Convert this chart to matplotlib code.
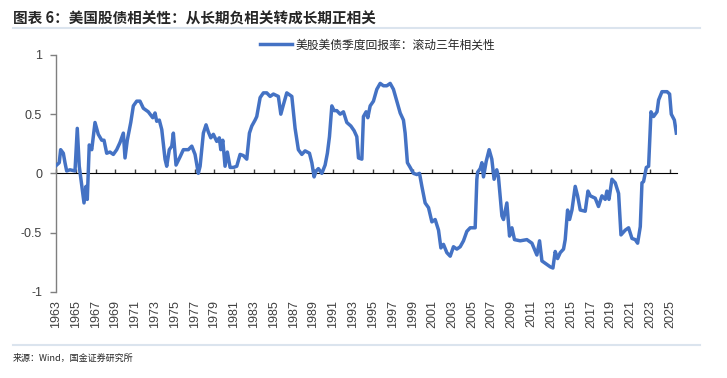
"""
US stock-bond correlation chart (rolling 3y correlation of quarterly returns).
Output: out.png
"""

import numpy as np
import matplotlib
matplotlib.use("Agg")
import matplotlib.pyplot as plt

plt.rcParams["font.family"] = ["Noto Sans CJK SC", "DejaVu Sans"]

TITLE = "图表 6：美国股债相关性：从长期负相关转成长期正相关"
SERIES_NAME = "美股美债季度回报率：滚动三年相关性"
SOURCE = "来源：Wind，国金证券研究所"

# values (decimal year, correlation)
years = [
    1963.00, 1963.33, 1963.47, 1963.74, 1963.91, 1964.08, 1964.41, 1964.92, 1965.15, 1965.35,
    1965.49, 1965.83, 1966.03, 1966.16, 1966.36, 1966.61, 1966.94, 1967.27, 1967.62, 1967.85,
    1968.12, 1968.45, 1968.79, 1969.13, 1969.46, 1969.80, 1969.97, 1970.20, 1970.55, 1970.81,
    1971.15, 1971.48, 1971.82, 1972.32, 1972.77, 1973.00, 1973.17, 1973.43, 1973.68, 1974.01,
    1974.18, 1974.44, 1974.69, 1974.85, 1975.12, 1975.53, 1975.86, 1976.36, 1976.71, 1977.04,
    1977.37, 1977.55, 1977.88, 1978.15, 1978.38, 1978.63, 1978.89, 1979.23, 1979.49, 1979.64,
    1979.84, 1980.07, 1980.30, 1980.58, 1980.91, 1981.25, 1981.59, 1981.92, 1982.26, 1982.53,
    1982.77, 1983.10, 1983.27, 1983.61, 1983.94, 1984.28, 1984.62, 1984.95, 1985.45, 1985.70,
    1985.96, 1986.30, 1986.81, 1987.14, 1987.47, 1987.82, 1988.15, 1988.59, 1988.83, 1989.06,
    1989.26, 1989.49, 1989.84, 1990.17, 1990.40, 1990.61, 1990.85, 1991.08, 1991.35, 1991.69,
    1992.02, 1992.36, 1992.77, 1993.10, 1993.37, 1993.54, 1993.88, 1994.04, 1994.31, 1994.48,
    1994.72, 1995.05, 1995.39, 1995.73, 1996.06, 1996.40, 1996.74, 1997.07, 1997.41, 1997.75,
    1998.08, 1998.25, 1998.48, 1998.76, 1999.09, 1999.43, 1999.70, 1999.94, 2000.27, 2000.61,
    2000.95, 2001.28, 2001.62, 2001.86, 2002.12, 2002.46, 2002.80, 2003.13, 2003.47, 2003.81,
    2004.14, 2004.48, 2004.82, 2005.32, 2005.49, 2005.57, 2005.83, 2006.00, 2006.16, 2006.43,
    2006.73, 2007.00, 2007.23, 2007.50, 2007.67, 2008.02, 2008.18, 2008.52, 2008.79, 2009.03,
    2009.29, 2009.87, 2010.54, 2011.05, 2011.55, 2011.82, 2012.06, 2012.39, 2012.90, 2013.17,
    2013.40, 2013.64, 2013.91, 2014.24, 2014.41, 2014.65, 2014.85, 2015.09, 2015.42, 2015.66,
    2015.93, 2016.43, 2016.71, 2016.94, 2017.44, 2017.77, 2018.12, 2018.45, 2018.62, 2018.83,
    2019.13, 2019.46, 2019.80, 2020.04, 2020.47, 2020.81, 2021.15, 2021.48, 2021.72, 2021.99,
    2022.16, 2022.32, 2022.60, 2022.83, 2023.07, 2023.33, 2023.68, 2023.84, 2024.18, 2024.69,
    2024.95, 2025.12, 2025.43, 2025.63,
]
corr = [
    0.065, 0.09, 0.20, 0.17, 0.09, 0.02, 0.03, 0.02, 0.38, 0.06,
    -0.03, -0.25, -0.11, -0.22, 0.24, 0.20, 0.43, 0.33, 0.28, 0.28,
    0.17, 0.18, 0.16, 0.20, 0.26, 0.34, 0.13, 0.28, 0.43, 0.57,
    0.61, 0.61, 0.55, 0.52, 0.47, 0.51, 0.44, 0.45, 0.37, 0.12,
    0.06, 0.20, 0.23, 0.34, 0.07, 0.14, 0.20, 0.20, 0.23, 0.16,
    0.00, 0.06, 0.34, 0.41, 0.35, 0.30, 0.33, 0.27, 0.30, 0.20,
    0.28, 0.06, 0.18, 0.05, 0.05, 0.06, 0.16, 0.15, 0.12, 0.34,
    0.40, 0.45, 0.48, 0.64, 0.68, 0.68, 0.65, 0.67, 0.65, 0.50,
    0.58, 0.68, 0.65, 0.38, 0.20, 0.16, 0.19, 0.17, 0.09, -0.03,
    0.02, 0.04, 0.00, 0.07, 0.17, 0.31, 0.57, 0.53, 0.53, 0.50,
    0.52, 0.43, 0.40, 0.36, 0.31, 0.13, 0.12, 0.48, 0.52, 0.47,
    0.57, 0.61, 0.71, 0.76, 0.74, 0.74, 0.76, 0.71, 0.61, 0.51,
    0.45, 0.34, 0.09, 0.05, 0.00, -0.01, 0.00, -0.11, -0.25, -0.29,
    -0.41, -0.39, -0.48, -0.63, -0.60, -0.67, -0.70, -0.62, -0.64, -0.62,
    -0.57, -0.49, -0.46, -0.46, -0.05, 0.01, 0.04, 0.09, -0.03, 0.10,
    0.20, 0.12, -0.05, 0.03, -0.03, -0.36, -0.39, -0.25, -0.53, -0.46,
    -0.56, -0.57, -0.56, -0.59, -0.69, -0.57, -0.74, -0.76, -0.79, -0.80,
    -0.66, -0.72, -0.67, -0.64, -0.56, -0.31, -0.39, -0.31, -0.11, -0.19,
    -0.31, -0.32, -0.15, -0.19, -0.21, -0.28, -0.19, -0.22, -0.15, -0.22,
    -0.05, -0.08, -0.17, -0.52, -0.48, -0.46, -0.55, -0.56, -0.59, -0.45,
    -0.08, -0.07, 0.05, 0.06, 0.52, 0.48, 0.52, 0.62, 0.69, 0.69,
    0.67, 0.50, 0.45, 0.34,
]
tick_years = list(range(1963, 2026, 2))
y_ticks = [1, 0.5, 0, -0.5, -1]
y_labels = ["1", "0.5", "0", "-0.5", "-1"]

LINE_COLOR = "#4472C4"
AXIS_COLOR = "#7f7f7f"
TEXT_COLOR = "#404040"
RULE_COLOR = "#dbe4ee"


def main() -> None:
    fig = plt.figure(figsize=(7.27, 3.78), dpi=100)

    # title and rules
    fig.text(0.018, 0.952, TITLE, fontsize=10.5, fontweight="bold",
             color="#262626", ha="left", va="center")
    fig.add_artist(plt.Line2D([0.018, 0.963], [0.925, 0.925], color=RULE_COLOR,
                              linewidth=1.5, transform=fig.transFigure))
    fig.add_artist(plt.Line2D([0.018, 0.963], [0.087, 0.087], color=RULE_COLOR,
                              linewidth=1.5, transform=fig.transFigure))
    fig.text(0.018, 0.052, SOURCE, fontsize=6.5, color="#262626",
             ha="left", va="center")

    ax = fig.add_axes([0.077, 0.2283, 0.854, 0.6262])
    ax.plot(years, corr, color=LINE_COLOR, linewidth=2.5, zorder=3,
            solid_joinstyle="round", label=SERIES_NAME)
    ax.set_xlim(1963, 2025.68)
    ax.set_ylim(-1, 1)

    for side in ("top", "right", "bottom"):
        ax.spines[side].set_visible(False)
    ax.spines["left"].set_color(AXIS_COLOR)
    ax.spines["left"].set_linewidth(1.0)

    ax.set_yticks(y_ticks)
    ax.set_yticklabels(y_labels, fontsize=9, color=TEXT_COLOR,
                       family=["Liberation Sans", "DejaVu Sans"])
    ax.tick_params(axis="y", direction="out", length=4, width=1.0,
                   color=AXIS_COLOR, pad=6)

    ax.set_xticks(tick_years)
    ax.set_xticklabels([str(y) for y in tick_years], rotation=90, fontsize=9,
                       color=TEXT_COLOR, family=["Liberation Sans", "DejaVu Sans"])
    ax.tick_params(axis="x", length=0, pad=6)

    # zero line acts as the category axis, with ticks every two years
    zero = ax.secondary_xaxis(0.5)
    zero.set_xticks(tick_years)
    zero.set_xticklabels([])
    zero.tick_params(axis="x", direction="out", length=3, width=1.0, color="#404040")
    zero.spines["bottom"].set_color("#6f6f6f")
    zero.spines["bottom"].set_linewidth(1.2)

    fig.legend(loc="center", bbox_to_anchor=(0.519, 0.881), frameon=False,
               fontsize=8.5, handlelength=2.7, handletextpad=0.3,
               labelcolor="#262626")

    fig.savefig("out.png", dpi=100)
    plt.close(fig)


if __name__ == "__main__":
    main()
